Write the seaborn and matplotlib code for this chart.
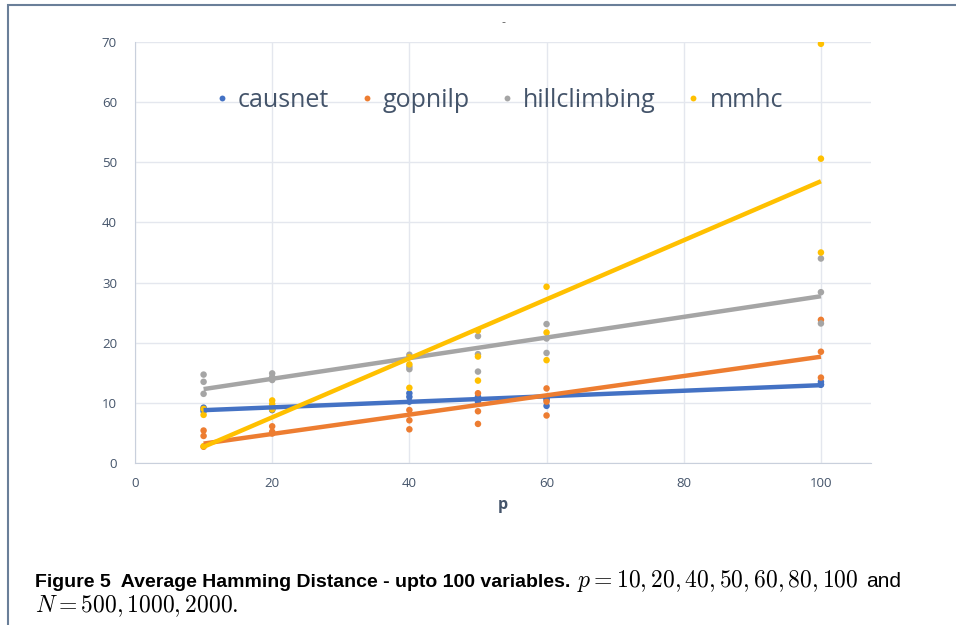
import pandas as pd
import seaborn as sns
import matplotlib.pyplot as plt
from matplotlib.patches import Rectangle

# Hamming distance per method, three sample sizes per p
p_values = [10, 10, 10, 20, 20, 20, 40, 40, 40, 50, 50, 50, 60, 60, 60, 100, 100, 100]
causnet = [9.2, 8.9, 8.6, 9.2, 9.0, 8.8, 11.6, 11.0, 10.2, 11.0, 10.5, 10.2, 10.5, 9.5, 10.8, 13.5, 13.1, 13.0]
gopnilp = [5.4, 4.5, 2.7, 6.1, 4.9, 5.2, 8.8, 7.1, 5.6, 11.6, 8.6, 6.5, 12.4, 10.2, 7.9, 23.8, 18.5, 14.2]
hillclimbing = [14.7, 13.5, 11.5, 14.9, 13.8, 14.3, 18.0, 16.0, 15.6, 21.1, 18.1, 15.2, 23.1, 20.7, 18.3, 34.0, 28.4, 23.2]
mmhc = [9.0, 8.0, 2.8, 10.4, 9.8, 8.9, 17.6, 16.4, 12.5, 22.0, 17.7, 13.7, 29.3, 21.7, 17.1, 69.7, 50.6, 35.0]

methods = ["causnet", "gopnilp", "hillclimbing", "mmhc"]
colors = ["#4472C4", "#ED7D31", "#A5A5A5", "#FFC000"]

df = pd.concat([
    pd.DataFrame({"p": p_values, "hd": vals, "method": name})
    for name, vals in zip(methods, [causnet, gopnilp, hillclimbing, mmhc])
])

plt.rcParams["mathtext.fontset"] = "cm"
text_col = "#44546A"

fig = plt.figure(figsize=(9.56, 6.25), dpi=100)
ax = fig.add_axes([135 / 956, 162 / 625, 736 / 956, 421 / 625])

sns.scatterplot(data=df, x="p", y="hd", hue="method", palette=colors,
                s=22, linewidth=0, ax=ax, zorder=3)
for name, col in zip(methods, colors):
    sns.regplot(data=df[df.method == name], x="p", y="hd", ci=None, scatter=False,
                truncate=True, color=col, line_kws={"lw": 3.2, "zorder": 4,
                                                     "solid_capstyle": "butt"}, ax=ax)

ax.set_xlim(0, 107.3)
ax.set_ylim(0, 70)
ax.set_xticks([0, 20, 40, 60, 80, 100])
ax.set_yticks(range(0, 71, 10))
ax.grid(True, color="#E4E7EE", lw=1)
ax.set_axisbelow(True)
for s in ["top", "right"]:
    ax.spines[s].set_visible(False)
for s in ["left", "bottom"]:
    ax.spines[s].set_color("#C9D0DC")
ax.tick_params(length=0, labelsize=9.5, labelcolor=text_col)
ax.tick_params(axis="y", pad=13)
ax.tick_params(axis="x", pad=10)
for lbl in ax.get_xticklabels() + ax.get_yticklabels():
    lbl.set_fontfamily("Open Sans")
ax.set_xlabel("p", fontsize=11.5, fontweight="bold", color=text_col,
              family="Open Sans", labelpad=5)
ax.set_ylabel("")

handles, labels = ax.get_legend_handles_labels()
leg = ax.legend(handles, labels, loc="center", bbox_to_anchor=(0.494, 0.862), ncol=4,
                frameon=False, fontsize=18, handlelength=0.6, handletextpad=0.34,
                columnspacing=1.2, markerscale=0.9)
for t in leg.get_texts():
    t.set_color(text_col)
    t.set_fontfamily("Open Sans")

fig.text(503 / 956, 1 - 22 / 625, "-", fontsize=8, color="#595959", ha="center", va="center")

# frame around the figure panel
fig.add_artist(Rectangle((8 / 956, -0.1), 1.2, 1.1 - 5 / 625, transform=fig.transFigure,
                         fill=False, edgecolor="#6A7F99", lw=1.5))

# caption
cap_y1 = 1 - 587 / 625
cap_y2 = 1 - 612 / 625
t1 = fig.text(35 / 956, cap_y1, "Figure 5  Average Hamming Distance - upto 100 variables.",
              fontsize=14, fontweight="bold", family="Liberation Sans", color="black",
              va="baseline")
fig.canvas.draw()
bb = t1.get_window_extent()
t2 = fig.text((bb.x1 + 7) / 956, cap_y1, r"$p = 10, 20, 40, 50, 60, 80, 100$",
              fontsize=17, color="black", va="baseline")
fig.canvas.draw()
bb2 = t2.get_window_extent()
fig.text((bb2.x1 + 7) / 956, cap_y1, "and", fontsize=15, family="Liberation Sans",
         color="black", va="baseline")
fig.text(35 / 956, cap_y2, r"$N = 500, 1000, 2000.$", fontsize=17, color="black",
         va="baseline")

fig.savefig("out.png", dpi=100)
